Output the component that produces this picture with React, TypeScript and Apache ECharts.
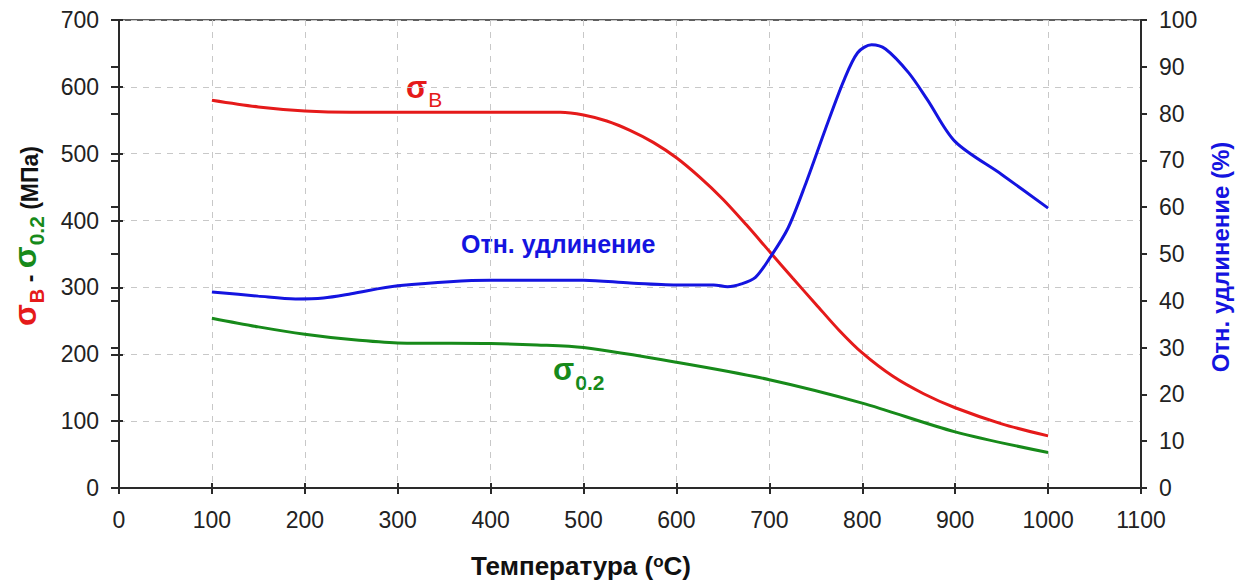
import React, { useEffect, useRef } from "react";
import * as echarts from "echarts";

// Temperature (°C) vs tensile strength σB (MPa)
const sigmaB: [number, number][] = [
  [100, 580], [150, 570], [200, 564], [250, 562], [300, 562], [400, 562], [475, 562],
  [500, 558], [525, 549], [550, 535], [575, 517], [600, 494], [625, 465], [650, 432],
  [675, 394], [700, 354], [725, 314], [750, 275], [775, 236], [800, 202], [833, 167],
  [866, 141], [900, 120], [950, 96], [1000, 78],
];

// Temperature (°C) vs yield strength σ0.2 (MPa)
const sigma02: [number, number][] = [
  [100, 254], [150, 241], [200, 230], [250, 222], [300, 217], [400, 216], [450, 214],
  [500, 210], [600, 188], [700, 162], [800, 127], [900, 84], [1000, 53],
];

// Temperature (°C) vs relative elongation (%)
const elongation: [number, number][] = [
  [100, 41.9], [150, 41.0], [190, 40.4], [220, 40.6], [250, 41.5], [300, 43.2], [400, 44.4],
  [500, 44.4], [550, 43.8], [600, 43.4], [640, 43.4], [655, 43.0], [670, 43.6], [685, 45.0],
  [700, 49.0], [720, 55.5], [740, 65.5], [760, 76.5], [780, 87.0], [795, 93.0], [810, 94.7],
  [825, 93.8], [850, 88.7], [870, 83.0], [900, 74.0], [950, 67.0], [1000, 59.8],
];

const xRange = { min: 0, max: 1100, interval: 100 };
const leftRange = { min: 0, max: 700, interval: 100 };
const rightRange = { min: 0, max: 100, interval: 10 };

const FONT = "'Liberation Sans', Arial, sans-serif";
const RED = "#e51a1a";
const GREEN = "#178a1a";
const BLUE = "#1414e0";
const AXIS = "#2a2a2a";

export default function App() {
  const ref = useRef<HTMLDivElement>(null);

  useEffect(() => {
    const chart = echarts.init(ref.current!, null, { renderer: "svg" });
    const labelStyle = { color: "#222", fontSize: 23, fontFamily: FONT };
    const fmt = (v: number) => String(v);
    const option: any = {
      animation: false,
      backgroundColor: "#fff",
      grid: {
        left: 119, right: 101, top: 20, bottom: 94,
        show: true, borderColor: AXIS, borderWidth: 1.5, backgroundColor: "transparent",
      },
      xAxis: [
        {
          type: "value", ...xRange, position: "bottom",
          axisLine: { show: true, onZero: false, lineStyle: { color: AXIS, width: 2 } },
          axisTick: { show: true, length: 6, lineStyle: { color: AXIS, width: 2 } },
          axisLabel: { ...labelStyle, margin: 20, formatter: fmt },
          splitLine: { show: true, lineStyle: { color: "#c8c8c8", type: [6, 6], width: 1 } },
        },
        {
          type: "value", ...xRange, position: "bottom",
          axisLine: { show: false },
          axisTick: { show: true, inside: true, length: 5, lineStyle: { color: AXIS, width: 2 } },
          axisLabel: { show: false },
          splitLine: { show: false },
        },
      ],
      yAxis: [
        {
          type: "value", ...leftRange, position: "left",
          axisLine: { show: true, onZero: false, lineStyle: { color: AXIS, width: 2 } },
          axisTick: { show: true, length: 8, lineStyle: { color: AXIS, width: 2 } },
          axisLabel: { ...labelStyle, margin: 20, formatter: fmt },
          splitLine: { show: true, lineStyle: { color: "#c8c8c8", type: [6, 6], width: 1 } },
        },
        {
          type: "value", ...rightRange, position: "right",
          axisLine: { show: true, onZero: false, lineStyle: { color: AXIS, width: 2 } },
          axisTick: { show: true, length: 6, lineStyle: { color: AXIS, width: 2 } },
          axisLabel: { ...labelStyle, margin: 18, formatter: fmt },
          splitLine: { show: false },
        },
        {
          type: "value", ...leftRange, position: "left",
          axisLine: { show: false },
          axisTick: { show: true, inside: true, length: 4, lineStyle: { color: AXIS, width: 2 } },
          axisLabel: { show: false },
          splitLine: { show: false },
        },
        {
          type: "value", ...rightRange, position: "right",
          axisLine: { show: false },
          axisTick: { show: true, inside: true, length: 8, lineStyle: { color: AXIS, width: 2 } },
          axisLabel: { show: false },
          splitLine: { show: false },
        },
      ],
      series: [
        {
          name: "σB", type: "line", xAxisIndex: 0, yAxisIndex: 0, data: sigmaB,
          smooth: 0.3, showSymbol: false, lineStyle: { color: RED, width: 3 },
        },
        {
          name: "σ0.2", type: "line", xAxisIndex: 0, yAxisIndex: 0, data: sigma02,
          smooth: 0.3, showSymbol: false, lineStyle: { color: GREEN, width: 3 },
        },
        {
          name: "Отн. удлинение", type: "line", xAxisIndex: 0, yAxisIndex: 1, data: elongation,
          smooth: 0.3, showSymbol: false, lineStyle: { color: BLUE, width: 3 },
        },
      ],
      graphic: [
        {
          type: "text", left: 406, top: 72,
          style: {
            text: "{s|σ}{b|B}",
            rich: {
              s: { fontSize: 31, fontWeight: "bold", fill: RED, fontFamily: FONT, lineHeight: 32, verticalAlign: "bottom" },
              b: { fontSize: 21, fill: RED, fontFamily: FONT, lineHeight: 21, verticalAlign: "bottom", padding: [0, 0, -7, 1] },
            },
          },
        },
        {
          type: "text", left: 461, top: 231,
          style: { text: "Отн. удлинение", fill: BLUE, fontSize: 25, fontWeight: "bold", fontFamily: FONT },
        },
        {
          type: "text", left: 553, top: 354,
          style: {
            text: "{s|σ}{b|0.2}",
            rich: {
              s: { fontSize: 31, fontWeight: "bold", fill: GREEN, fontFamily: FONT, lineHeight: 32, verticalAlign: "bottom" },
              b: { fontSize: 21, fontWeight: "bold", fill: GREEN, fontFamily: FONT, lineHeight: 21, verticalAlign: "bottom", padding: [0, 0, -8, 1] },
            },
          },
        },
        {
          type: "text", x: 24, y: 236, rotation: Math.PI / 2,
          style: {
            text: "{r|σ}{rs|B}{k| - }{g|σ}{gs|0.2}{k| (МПа)}",
            align: "center", verticalAlign: "middle",
            rich: {
              r: { fontSize: 32, fontWeight: "bold", fill: RED, fontFamily: FONT, lineHeight: 34, verticalAlign: "bottom" },
              rs: { fontSize: 20, fontWeight: "bold", fill: RED, fontFamily: FONT, lineHeight: 20, verticalAlign: "bottom", padding: [0, 0, -6, 1] },
              g: { fontSize: 32, fontWeight: "bold", fill: GREEN, fontFamily: FONT, lineHeight: 34, verticalAlign: "bottom" },
              gs: { fontSize: 21, fontWeight: "bold", fill: GREEN, fontFamily: FONT, lineHeight: 21, verticalAlign: "bottom", padding: [0, 0, -6, 1] },
              k: { fontSize: 23, fontWeight: "bold", fill: "#111", fontFamily: FONT, lineHeight: 27, verticalAlign: "bottom" },
            },
          },
        },
        {
          type: "text", x: 1220, y: 257, rotation: Math.PI / 2,
          style: {
            text: "Отн. удлинение (%)", align: "center", verticalAlign: "middle",
            fill: BLUE, fontSize: 24, fontWeight: "bold", fontFamily: FONT,
          },
        },
        {
          type: "text", x: 581, y: 565,
          style: {
            text: "{t|Температура (}{sup|o}{t|C)}", align: "center", verticalAlign: "middle",
            rich: {
              t: { fontSize: 26, fontWeight: "bold", fill: "#111", fontFamily: FONT, lineHeight: 28, verticalAlign: "bottom" },
              sup: { fontSize: 17, fontWeight: "bold", fill: "#111", fontFamily: FONT, lineHeight: 17, verticalAlign: "bottom", padding: [0, 0, 9, 0] },
            },
          },
        },
      ],
    };
    chart.setOption(option);
    return () => chart.dispose();
  }, []);

  return (
    <div
      ref={ref}
      style={{ position: "fixed", left: 0, top: 0, width: 1242, height: 582, background: "#fff" }}
    />
  );
}
